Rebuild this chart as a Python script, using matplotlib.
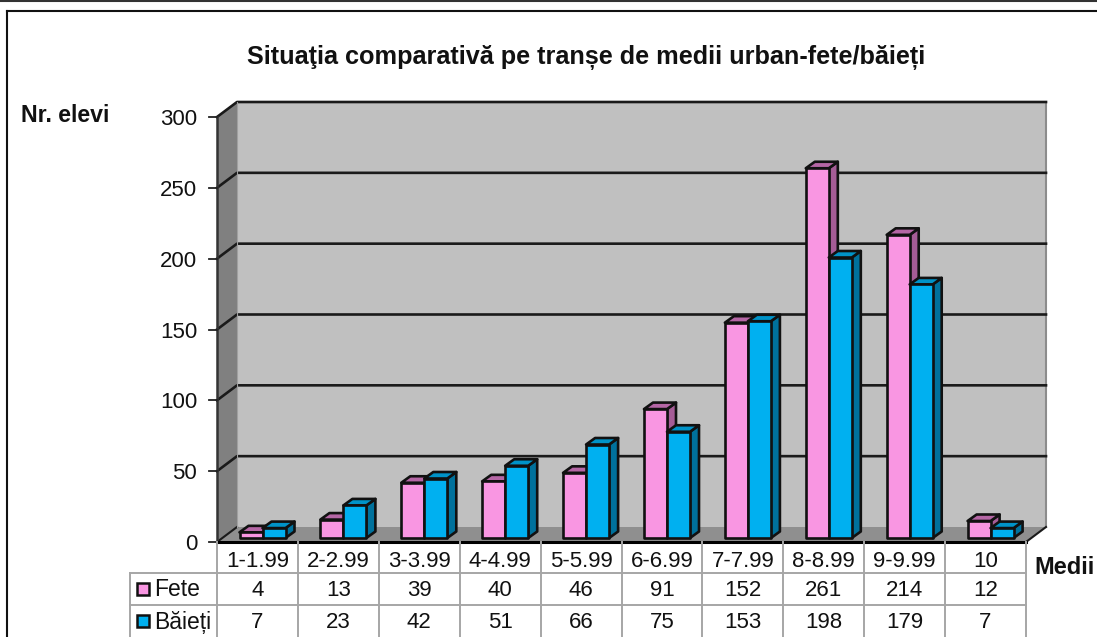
import matplotlib
matplotlib.use("Agg")
import matplotlib.pyplot as plt
from matplotlib.lines import Line2D
from matplotlib.patches import Polygon, Rectangle

plt.rcParams['font.family'] = ['Liberation Sans', 'DejaVu Sans']

categories = ['1-1.99', '2-2.99', '3-3.99', '4-4.99', '5-5.99', '6-6.99', '7-7.99', '8-8.99', '9-9.99', '10']
fete = [4, 13, 39, 40, 46, 91, 152, 261, 214, 12]
baieti = [7, 23, 42, 51, 66, 75, 153, 198, 179, 7]
y_ticks = [0, 50, 100, 150, 200, 250, 300]

W, H = 1097, 637
X0, X1, Y0, Y1 = 217, 1026, 542, 117   # front plane of the plot, pixels

fig = plt.figure(figsize=(W / 100, H / 100), dpi=100)
ax = fig.add_axes([X0 / W, 1 - Y0 / H, (X1 - X0) / W, (Y0 - Y1) / H])
ax.set_xlim(0, len(categories))
ax.set_ylim(0, 300)
ax.axis('off')

# pixel -> data sizes
px = len(categories) / (X1 - X0)
py = 300 / (Y0 - Y1)
wall_dx, wall_dy = 20 * px, 15 * py


def poly(pts, **kw):
    kw.setdefault('clip_on', False)
    ax.add_patch(Polygon(pts, closed=True, **kw))


def seg(xs, ys, **kw):
    ax.add_line(Line2D(xs, ys, clip_on=False, **kw))


n = len(categories)
# walls and floor
poly([(wall_dx, wall_dy), (n + wall_dx, wall_dy), (n + wall_dx, 300 + wall_dy), (wall_dx, 300 + wall_dy)],
     fc='#c0c0c0', ec='none', zorder=1)
poly([(0, 0), (wall_dx, wall_dy), (wall_dx, 300 + wall_dy), (0, 300)], fc='#808080', ec='none', zorder=1)
poly([(0, 0), (n, 0), (n + wall_dx, wall_dy), (wall_dx, wall_dy)], fc='#8f8f8f', ec='none', zorder=1)
seg([n + wall_dx, n + wall_dx], [wall_dy, 300 + wall_dy], color='#8c8c8c', lw=1.5, zorder=2)

for t in y_ticks[1:]:
    seg([0, wall_dx, n + wall_dx], [t, t + wall_dy, t + wall_dy], color='#1a1a1a', lw=1.9, zorder=2)
seg([0, wall_dx], [0, wall_dy], color='#1a1a1a', lw=1.5, zorder=2)
seg([n, n + wall_dx], [0, wall_dy], color='#1a1a1a', lw=1.5, zorder=2)
seg([0, 0], [0, 300], color='#333333', lw=1.8, zorder=2)
seg([0, n], [0, 0], color='black', lw=2.2, zorder=6)
seg([wall_dx, wall_dx], [wall_dy, 300 + wall_dy], color='#a0a0a0', lw=0.8, zorder=2)

for t in y_ticks:
    seg([-8 * px, 0], [t, t], color='#222222', lw=1.3, zorder=2)
    ax.text(-20 * px, t - 2.5 * py, str(t), ha='right', va='center', fontsize=16, color='#111111')

# 3d bars
bar_w = 23 * px
bar_dx, bar_dy = 9 * px, 6.5 * py
base = 4 * py
left = 22.5 * px


def bar3d(x, v, face, top, side):
    b, t = base, base + v
    style = dict(ec='#111111', lw=1.9, joinstyle='round')
    poly([(x + bar_w, b), (x + bar_w + bar_dx, b + bar_dy), (x + bar_w + bar_dx, t + bar_dy), (x + bar_w, t)],
         fc=side, zorder=4, **style)
    poly([(x, t), (x + bar_w, t), (x + bar_w + bar_dx, t + bar_dy), (x + bar_dx, t + bar_dy)],
         fc=top, zorder=4, **style)
    ax.add_patch(Rectangle((x, b), bar_w, v, fc=face, zorder=4, clip_on=False, **style))


for i in range(n):
    bar3d(i + left, fete[i], '#f996e2', '#b566a5', '#a55c96')
    bar3d(i + left + bar_w, baieti[i], '#00b0f0', '#0093c8', '#00719c')


# table and frame are placed in pixels on the figure
def fig_line(x0, y0, x1, y1, color='#a6a6a6', lw=1.4):
    fig.add_artist(Line2D([x0 / W, x1 / W], [1 - y0 / H, 1 - y1 / H], color=color, lw=lw))


def fig_text(x, y, s, **kw):
    fig.text(x / W, 1 - y / H, s, **kw)


step = (X1 - X0) / n
row_y = [573, 605]
fig_line(130, row_y[0], X1, row_y[0])
fig_line(130, row_y[1], X1, row_y[1])
fig_line(130, row_y[0], 130, H)
for i in range(n + 1):
    fig_line(X0 + i * step, Y0, X0 + i * step, H)
for i in range(n):
    cx = X0 + (i + 0.5) * step
    fig_text(cx, 561.5, categories[i], ha='center', va='center', fontsize=16, color='#111111')
    fig_text(cx, 590.5, str(fete[i]), ha='center', va='center', fontsize=16, color='#111111')
    fig_text(cx, 622.5, str(baieti[i]), ha='center', va='center', fontsize=16, color='#111111')

for y, name, col in [(589, 'Fete', '#f996e2'), (621, 'Băieți', '#00b0f0')]:
    fig.add_artist(Rectangle((137 / W, 1 - (y + 6) / H), 12 / W, 12 / H, fc=col, ec='#111111', lw=1.8,
                             transform=fig.transFigure))
    fig_text(154, y + 1, name, ha='left', va='center', fontsize=16.5, color='#111111')

fig_text(586, 58, 'Situaţia comparativă pe tranșe de medii urban-fete/băieți', ha='center', va='center',
         fontsize=18.2, fontweight='bold', color='#111111')
fig_text(21, 116, 'Nr. elevi', ha='left', va='center', fontsize=16.7, fontweight='bold', color='#111111')
fig_text(1034, 567, 'Medii', ha='left', va='center', fontsize=17, fontweight='bold', color='#111111')

# outer frame
fig_line(0, 1, W, 1, color='#333333', lw=1.5)
fig_line(6.5, 10.5, W, 10.5, color='#111111', lw=1.5)
fig_line(6.5, 10.5, 6.5, H, color='#111111', lw=1.5)

fig.savefig('out.png', dpi=100)
